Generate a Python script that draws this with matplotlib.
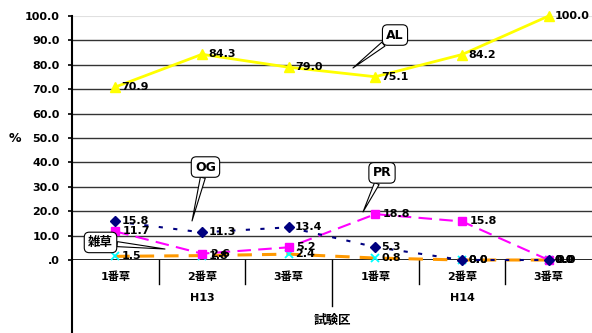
import matplotlib
matplotlib.use("Agg")
import matplotlib.pyplot as plt
from matplotlib.transforms import blended_transform_factory

plt.rcParams['font.family'] = ['DejaVu Sans', 'Noto Sans CJK JP']
plt.rcParams['font.weight'] = 'bold'

cuts = ["1番草", "2番草", "3番草", "1番草", "2番草", "3番草"]
years = ["H13", "H14"]
al = [70.9, 84.3, 79.0, 75.1, 84.2, 100.0]
og = [15.8, 11.3, 13.4, 5.3, 0.0, 0.0]
pr = [11.7, 2.6, 5.2, 18.8, 15.8, 0.0]
weeds = [1.5, 1.8, 2.4, 0.8, 0.0, 0.0]
yticks = [0, 10, 20, 30, 40, 50, 60, 70, 80, 90, 100]

W, H = 592, 333
fig = plt.figure(figsize=(W / 100, H / 100), dpi=100)
ax = fig.add_axes([72 / W, (H - 260) / H, 520 / W, 244 / H])
x = list(range(len(cuts)))

ax.set_xlim(-0.5, len(cuts) - 0.5)
ax.set_ylim(0, 100)
for v in yticks[1:-1]:
    ax.axhline(v, color='#333333', lw=1.0, zorder=1)
ax.axhline(100, color='#e0e0e0', lw=1.5, zorder=1)

for s in ['top', 'right', 'bottom']:
    ax.spines[s].set_visible(False)
ax.spines['left'].set_linewidth(1.5)
ax.axhline(0, color='black', lw=1.2, zorder=2)

ax.set_yticks(yticks)
ax.set_yticklabels(['.0' if v == 0 else f'{v:.1f}' for v in yticks], fontsize=8, fontweight='bold')
ax.tick_params(axis='y', direction='out', length=3, width=1.2, pad=6)
ax.set_xticks([])

fs = 8
ax.plot(x, weeds, color='#FF9900', lw=2.2, dashes=(4.7, 3.3), marker='x',
        markersize=6, markeredgecolor='#00FFFF', markeredgewidth=1.3, zorder=3, clip_on=False)
ax.plot(x, pr, color='#FF00FF', lw=1.5, dashes=(6.5, 3.5), marker='s',
        markersize=6, markerfacecolor='#FF00FF', markeredgecolor='#FF00FF', zorder=4, clip_on=False)
ax.plot(x, og, color='#000080', lw=1.5, dashes=(2, 5), marker='D',
        markersize=5, markerfacecolor='#000080', markeredgecolor='#000080', zorder=5, clip_on=False)
ax.plot(x, al, color='#FFFF00', lw=2.0, marker='^',
        markersize=7, markerfacecolor='#FFFF00', markeredgecolor='#FFFF00', zorder=6, clip_on=False)

# Value labels to the right of each marker
for series, dx in ((weeds, 4.5), (pr, 5.5), (og, 4.5), (al, 4.5)):
    for xi, v in zip(x, series):
        ax.annotate(f'{v:.1f}', (xi, v), xytext=(dx, 0), textcoords='offset points',
                    ha='left', va='center', fontsize=fs, fontweight='bold', zorder=7,
                    annotation_clip=False)

# Callout labels for each series
box = dict(boxstyle='round,pad=0.3,rounding_size=0.4', fc='white', ec='black', lw=0.8)
def callout(text, xy, xytext):
    ax.annotate(text, xy=xy, xytext=xytext, textcoords='data', ha='center', va='center',
                fontsize=9, fontweight='bold', bbox=box, zorder=8,
                arrowprops=dict(arrowstyle='wedge,tail_width=0.4', fc='white', ec='black',
                                lw=0.8, shrinkA=0, shrinkB=0))

callout('AL', (2.742, 78.7), (3.227, 92.2))
callout('OG', (0.885, 16.0), (1.040, 38.1))
callout('PR', (2.858, 19.7), (3.077, 35.7))
callout('雑草', (0.573, 4.5), (-0.171, 7.2))

# Two-level category axis beneath the plot
tr = blended_transform_factory(ax.transData, fig.transFigure)
def fy(py):
    return (H - py) / H

for xi, c in zip(x, cuts):
    ax.text(xi, fy(277), c, transform=tr, ha='center', va='center', fontsize=fs, fontweight='bold')
for gi, yr in enumerate(years):
    ax.text(gi * 3 + 1, fy(298), yr, transform=tr, ha='center', va='center', fontsize=fs, fontweight='bold')
ax.text(2.5, fy(320), '試験区', transform=tr, ha='center', va='center', fontsize=9, fontweight='bold')

for b in [0.5, 1.5, 3.5, 4.5]:
    ax.plot([b, b], [fy(260), fy(284)], transform=tr, color='black', lw=1.0, clip_on=False)
ax.plot([2.5, 2.5], [fy(260), fy(306)], transform=tr, color='black', lw=1.0, clip_on=False)
ax.plot([-0.5, -0.5], [fy(260), fy(333)], transform=tr, color='black', lw=1.5, clip_on=False)

fig.text(15 / W, fy(138), '%', ha='center', va='center', fontsize=9, fontweight='bold')

fig.savefig('out.png', dpi=100)
